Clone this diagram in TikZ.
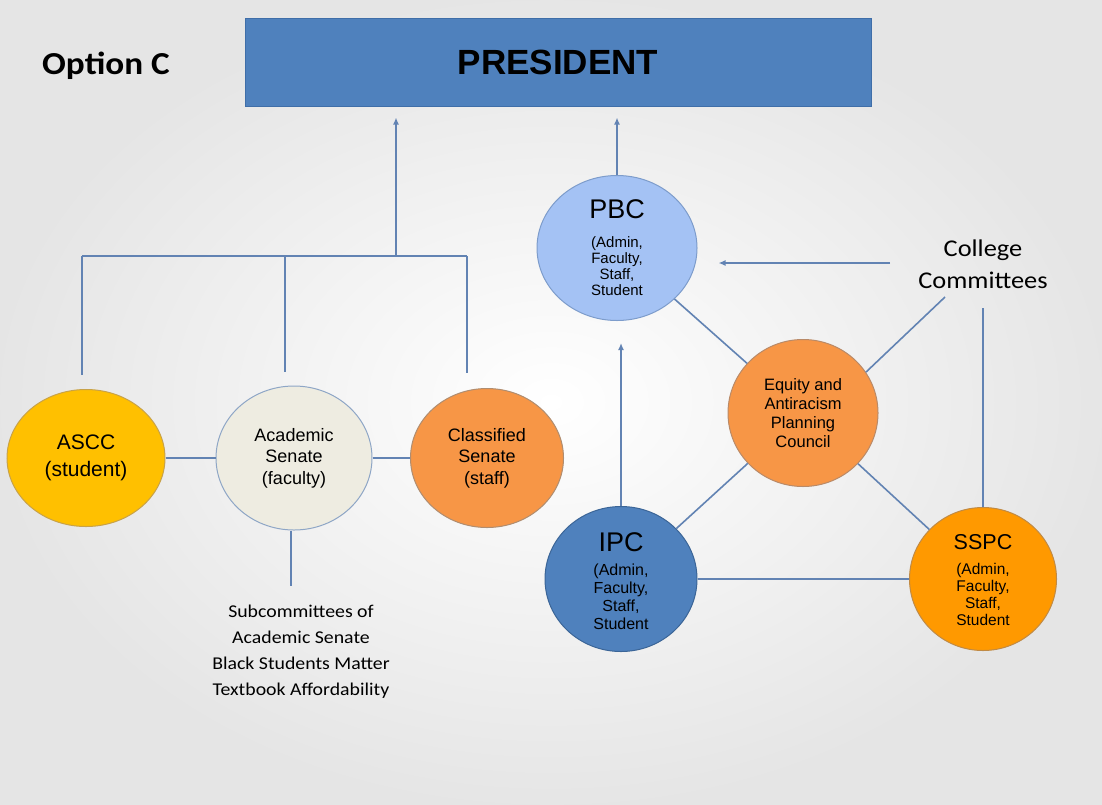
\documentclass[tikz,border=0pt]{standalone}
\usepackage{fontspec}
\setmainfont{Liberation Sans}
\newfontfamily\calfont[FakeStretch=1.1]{Carlito}
\usetikzlibrary{shapes.geometric,arrows.meta}
\definecolor{presf}{HTML}{4F81BD}
\definecolor{presb}{HTML}{3F6EA8}
\definecolor{lc}{HTML}{6283B3}
\definecolor{pbcf}{HTML}{A4C2F4}
\definecolor{pbcb}{HTML}{7D9CCB}
\definecolor{eqf}{HTML}{F79646}
\definecolor{eqb}{HTML}{B98A68}
\definecolor{ipcf}{HTML}{4F81BD}
\definecolor{ipcb}{HTML}{3B6597}
\definecolor{sspcf}{HTML}{FF9900}
\definecolor{sspcb}{HTML}{C08A45}
\definecolor{asccf}{HTML}{FFC000}
\definecolor{asccb}{HTML}{C8A248}
\definecolor{acadf}{HTML}{EEECE1}
\definecolor{acadb}{HTML}{8EA6C6}
\definecolor{classf}{HTML}{F79646}
\definecolor{classb}{HTML}{B08D70}
\begin{document}
\begin{tikzpicture}[x=1pt,y=-1pt,
  circ/.style={ellipse, inner sep=0pt, line width=1pt, align=center, text=black},
  conn/.style={draw=lc, line width=1.6pt},
  arr/.style={conn, -{Latex[length=7pt,width=6pt]}},
  ttl/.style={inner sep=0pt, font=\fontsize{27}{30}\selectfont},
  sub/.style={inner sep=0pt, align=center, font=\fontsize{15}{16}\selectfont},
  cal/.style={inner sep=0pt, align=center, text=black}
]
\useasboundingbox (0,0) rectangle (1102,804);
\shade[inner color=white, outer color=gray!20] (0,0) rectangle (1102,804);

% President
\node[draw=presb, fill=presf, line width=1pt, minimum width=626pt, minimum height=88pt, inner sep=0pt,
  font=\fontsize{35}{40}\selectfont\bfseries] (pres) at (558,62) {PRESIDENT};
\node[anchor=base west, inner sep=0pt, font=\calfont\bfseries\fontsize{32}{36}\selectfont] (opt) at (42,74) {Option C};

% Left group
\node[circ, draw=asccb, fill=asccf, minimum width=158pt, minimum height=137pt,
  font=\fontsize{21}{27}\selectfont] (ascc) at (86,458) {ASCC\\(student)};
\node[circ, draw=acadb, fill=acadf, minimum width=156pt, minimum height=144pt,
  font=\fontsize{18}{21.5}\selectfont] (acad) at (294,458) {Academic\\Senate\\(faculty)};
\node[circ, draw=classb, fill=classf, minimum width=153pt, minimum height=139pt,
  font=\fontsize{18}{21.5}\selectfont] (class) at (487,458) {Classified\\Senate\\(staff)};

\node[cal, font=\calfont\fontsize{18}{26}\selectfont] (subc) at (301,652)
  {Subcommittees of\\Academic Senate\\Black Students Matter\\Textbook Affordability};

% Right group
\node[circ, draw=pbcb, fill=pbcf, minimum width=160pt, minimum height=145pt] (pbc) at (617,248) {};
\node[ttl] (pbct) at (617,209) {PBC};
\node[sub] (pbcs) at (617,266) {(Admin,\\Faculty,\\Staff,\\Student};

\node[circ, draw=eqb, fill=eqf, minimum width=150pt, minimum height=147pt,
  font=\fontsize{16.5}{19}\selectfont] (eq) at (803,413) {Equity and\\Antiracism\\Planning\\Council};

\node[circ, draw=ipcb, fill=ipcf, minimum width=152pt, minimum height=145pt] (ipc) at (621,579) {};
\node[ttl] (ipct) at (621,542) {IPC};
\node[sub, font=\fontsize{16}{18}\selectfont] (ipcs) at (621,597) {(Admin,\\Faculty,\\Staff,\\Student};

\node[circ, draw=sspcb, fill=sspcf, minimum width=147pt, minimum height=143pt] (sspc) at (983,579) {};
\node[ttl, font=\fontsize{21.5}{24}\selectfont] (sspct) at (983,542) {SSPC};
\node[sub, font=\fontsize{15.5}{17}\selectfont] (sspcs) at (983,594) {(Admin,\\Faculty,\\Staff,\\Student};

\node[cal, font=\calfont\fontsize{24}{32}\selectfont] (cc) at (983,264) {College\\Committees};

% Connectors: left tree
\coordinate (j) at (396,256);
\coordinate (bl) at (82,256);
\coordinate (bm) at (285,256);
\coordinate (br) at (467,256);
\draw[arr, shorten >=11pt] (j) -- (j |- pres.south);
\draw[conn] (bl) -- (br);
\draw[conn, shorten >=14pt] (bl) -- (bl |- ascc.north);
\draw[conn, shorten >=14pt] (bm) -- (bm |- acad.north);
\draw[conn, shorten >=15pt] (br) -- (br |- class.north);
\draw[conn] (ascc) -- (acad);
\draw[conn] (acad) -- (class);
\coordinate (acadend) at (291,586);
\draw[conn] (acad.south -| acadend) -- (acadend);

% Connectors: right group
\draw[arr, shorten >=11pt] (pbc.north) -- (pbc.north |- pres.south);
\coordinate (ccA) at (890,263);
\draw[arr, shorten >=21pt] (ccA) -- (ccA -| pbc.east);
\coordinate (ccd) at (945,297);
\draw[conn] (ccd) -- (eq.33);
\coordinate (ccv) at (983,308);
\draw[conn] (ccv) -- (sspc.north);
\draw[conn] (pbc) -- (eq);
\draw[conn] (eq) -- (ipc);
\draw[conn] (eq) -- (sspc);
\draw[conn] (ipc) -- (sspc);
\coordinate (ipctip) at (621,343);
\draw[arr] (ipc.north) -- (ipctip);
\end{tikzpicture}
\end{document}
